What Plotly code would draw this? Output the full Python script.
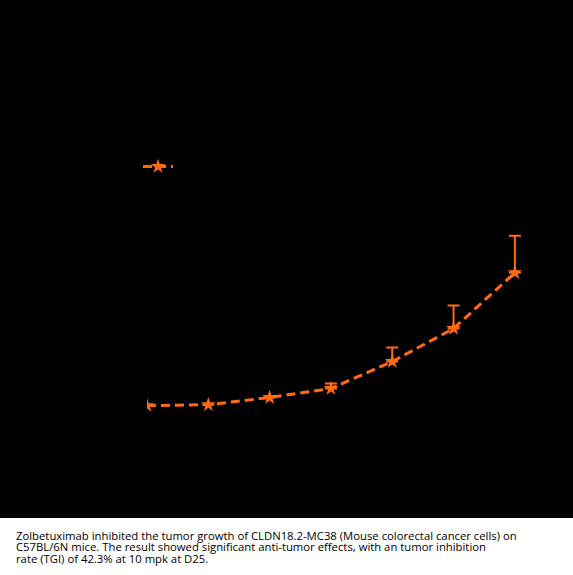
import plotly.graph_objects as go

W, H = 573, 575

days = [7, 10, 13, 16, 19, 22, 25]
tumor_volume = [248, 251, 275, 305, 395, 505, 691]
sem = [0, 0, 0, 17, 47, 77, 123]

caption_lines = [
    "Zolbetuximab inhibited the tumor growth of CLDN18.2-MC38 (Mouse colorectal cancer cells) on",
    "C57BL/6N mice. The result showed significant anti-tumor effects, with an tumor inhibition",
    "rate (TGI) of 42.3% at 10 mpk at D25.",
]

ORANGE = "#FF6A13"


def px_x(p):
    return p / W


def px_y(p):
    return (H - p) / H


fig = go.Figure(go.Scatter(
    x=days, y=tumor_volume, name="Zolbetuximab 10 mpk",
    mode="lines+markers",
    line=dict(color=ORANGE, width=3, dash="9px,5px"),
    marker=dict(symbol="star", size=11, color=ORANGE),
    error_y=dict(type="data", array=sem, arrayminus=[0] * len(sem), symmetric=False,
                 color=ORANGE, thickness=2, width=6),
    cliponaxis=True,
))

fig.add_shape(type="rect", xref="paper", yref="paper", x0=0, x1=1, y0=0, y1=px_y(518),
              fillcolor="white", line_width=0, layer="below")
for i, line in enumerate(caption_lines):
    fig.add_annotation(text=line, xref="paper", yref="paper", x=px_x(14), y=px_y(535 + 11.7 * i),
                       xanchor="left", yanchor="middle", align="left", showarrow=False,
                       font=dict(family="Open Sans", size=11.3, color="black"))

fig.update_layout(
    width=W, height=H,
    margin=dict(l=0, r=0, t=0, b=0),
    paper_bgcolor="black", plot_bgcolor="black",
    font=dict(family="Liberation Sans", size=12, color="black"),
    showlegend=True,
    legend=dict(x=px_x(138), y=px_y(152), xanchor="left", yanchor="top",
                bgcolor="rgba(0,0,0,0)", font=dict(color="black")),
    xaxis=dict(domain=[px_x(147), px_x(540)], range=[7, 26.23], showgrid=False,
               zeroline=False, showticklabels=False, ticks=""),
    yaxis=dict(domain=[px_y(480), px_y(30)], range=[0, 1500], showgrid=False,
               zeroline=False, showticklabels=False, ticks=""),
)

fig.write_html("out.html", config={"displayModeBar": False},
               post_script="document.body.style.margin='0';")
